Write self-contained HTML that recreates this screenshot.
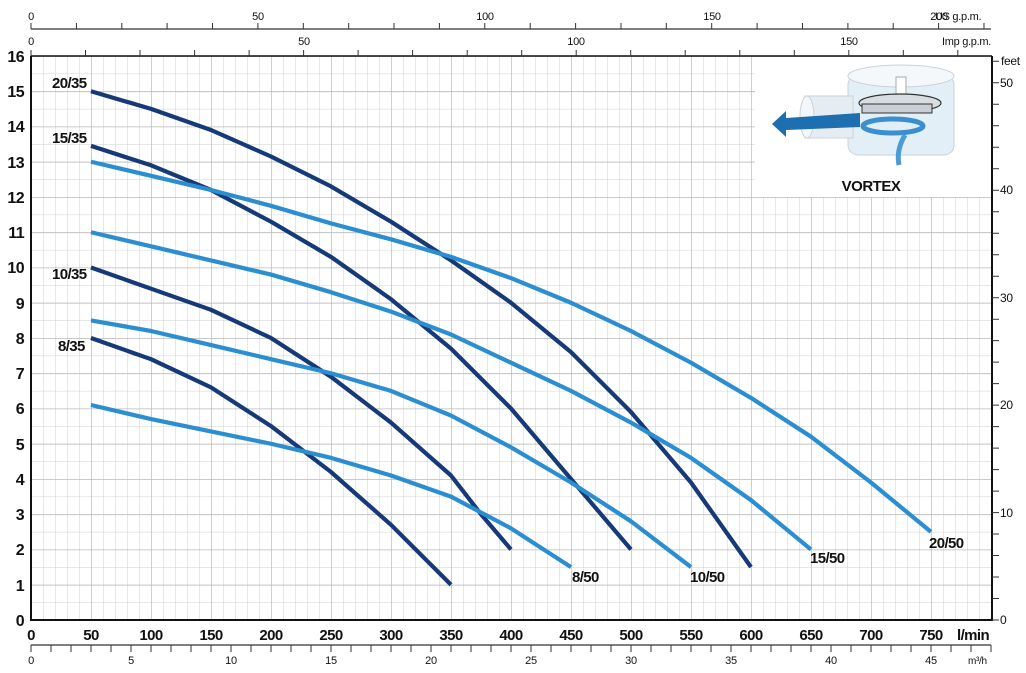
<!DOCTYPE html>
<html><head><meta charset="utf-8"><style>
html,body{margin:0;padding:0;background:#fff;}
svg{display:block;font-family:"Liberation Sans Narrow","Liberation Sans",sans-serif;}
.b{font-weight:bold;font-size:15px;fill:#111;letter-spacing:-0.6px;}
.s{font-size:11px;fill:#111;letter-spacing:-0.3px;}
.d{fill:none;stroke:#163a78;stroke-width:4.2;stroke-linejoin:round;stroke-linecap:butt;}
.l{fill:none;stroke:#2a8ed0;stroke-width:4.2;stroke-linejoin:round;stroke-linecap:butt;}
</style></head><body>
<svg width="1026" height="673" viewBox="0 0 1026 673">
<defs>
<pattern id="g1" x="31" y="56" width="12" height="17.625" patternUnits="userSpaceOnUse">
<path d="M0 0V17.625M0 0H12" stroke="#cfcfcf" stroke-width="1" fill="none"/>
</pattern>
<pattern id="g2" x="31" y="56" width="60" height="35.25" patternUnits="userSpaceOnUse">
<path d="M0 0V35.25M0 0H60" stroke="#b9b9b9" stroke-width="1.4" fill="none"/>
</pattern>
</defs>
<rect x="31" y="56" width="961" height="564" fill="url(#g1)"/>
<rect x="31" y="56" width="961" height="564" fill="url(#g2)"/>

<!-- curves dark -->
<polyline class="d" points="91,91.25 151,108.9 211,130 271,156.5 331,186.4 391,221.7 451,260.4 511,302.75 571,352.1 631,412 691,482.5 751,567.1"/>
<polyline class="d" points="91,145.9 151,165.3 211,190 271,221.7 331,256.9 391,299.2 451,348.6 511,408.5 571,479 631,549.5"/>
<polyline class="d" points="91,267.5 151,288.7 211,309.8 271,338 331,376.8 391,422.6 451,475.5 481,514.25 511,549.5"/>
<polyline class="d" points="91,338 151,359.2 211,387.35 271,426.1 331,472 391,524.8 451,584.75"/>
<!-- curves light -->
<polyline class="l" points="91,161.75 151,175.85 211,190 271,205.8 331,223.4 391,239.3 451,256.9 511,278.1 571,302.75 631,331 691,362.7 751,397.9 811,436.7 871,482.5 931,531.9"/>
<polyline class="l" points="91,232.25 151,246.35 211,260.45 271,274.55 331,292.2 391,311.6 451,334.5 511,362.7 571,390.9 631,422.6 691,457.85 751,500.15 811,549.5"/>
<polyline class="l" points="91,320.4 151,331 211,345.05 271,359.15 331,373.25 391,390.9 451,415.55 511,447.3 571,482.5 631,521.3 691,567.1"/>
<polyline class="l" points="91,405 151,419.1 211,431.4 271,443.75 331,457.85 391,475.5 451,496.6 511,528.35 571,567.1"/>

<!-- inset -->
<rect x="755" y="57" width="236" height="140" fill="#ffffff" stroke="none"/>
<g>
<rect x="848" y="75" width="106" height="80" rx="10" fill="#e3eff7" stroke="#c8d2da"/>
<ellipse cx="901" cy="76" rx="53" ry="11" fill="#f4f8fb" stroke="#c8d2da"/>
<rect x="805" y="96" width="48" height="42" fill="#e6edf2" stroke="#c8d2da"/>
<ellipse cx="807" cy="117" rx="7" ry="21" fill="#f4f6f8" stroke="#c8d2da"/>
<rect x="896" y="77" width="10" height="24" fill="#fff" stroke="#aaa"/>
<ellipse cx="900" cy="103" rx="41" ry="9" fill="#d8dde2" stroke="#333" stroke-width="1.2"/>
<rect x="862" y="104" width="70" height="9" fill="#c9cfd5" stroke="#333" stroke-width="1"/>
<ellipse cx="893" cy="126" rx="30" ry="7" fill="none" stroke="#3b8fd0" stroke-width="5"/>
<path d="M905 135 Q896 150 899 165" stroke="#4a9bd6" stroke-width="5" fill="none"/>
<path d="M772 124 L786 111 L786 118 L860 113 L860 127 L786 130 L786 137 Z" fill="#1d6fb0"/>
<text x="871" y="191" text-anchor="middle" style="font-weight:bold;font-size:15px;fill:#111;letter-spacing:-0.5px">VORTEX</text>
</g>

<!-- curve labels -->
<text class="b" x="52" y="88">20/35</text>
<text class="b" x="52" y="143">15/35</text>
<text class="b" x="52" y="279">10/35</text>
<text class="b" x="58" y="351">8/35</text>
<text class="b" x="572" y="582">8/50</text>
<text class="b" x="690" y="582">10/50</text>
<text class="b" x="810" y="563">15/50</text>
<text class="b" x="929" y="548">20/50</text>

<!-- plot frame -->
<path d="M31 56 V620 H992 V56" stroke="#111" stroke-width="2" fill="none"/>
<line x1="31" y1="56" x2="992" y2="56" stroke="#111" stroke-width="1.5"/>

<!-- left labels -->
<g class="b" text-anchor="end" style="font-size:16px">
<text x="24" y="626">0</text><text x="24" y="591">1</text><text x="24" y="555">2</text><text x="24" y="520">3</text>
<text x="24" y="485">4</text><text x="24" y="450">5</text><text x="24" y="414">6</text><text x="24" y="379">7</text>
<text x="24" y="344">8</text><text x="24" y="309">9</text><text x="24" y="273">10</text><text x="24" y="238">11</text>
<text x="24" y="203">12</text><text x="24" y="168">13</text><text x="24" y="132">14</text><text x="24" y="97">15</text>
<text x="24" y="62">16</text>
</g>

<!-- bottom l/min labels -->
<g class="b" text-anchor="middle">
<text x="31" y="640">0</text><text x="91" y="640">50</text><text x="151" y="640">100</text><text x="211" y="640">150</text>
<text x="271" y="640">200</text><text x="331" y="640">250</text><text x="391" y="640">300</text><text x="451" y="640">350</text>
<text x="511" y="640">400</text><text x="571" y="640">450</text><text x="631" y="640">500</text><text x="691" y="640">550</text>
<text x="751" y="640">600</text><text x="811" y="640">650</text><text x="871" y="640">700</text><text x="931" y="640">750</text>
</g>
<text class="b" x="957" y="640">l/min</text>

<!-- m3/h axis -->
<line x1="31" y1="645" x2="991" y2="645" stroke="#333" stroke-width="1.2"/>
<path stroke="#333" stroke-width="1" d="M31 645v7M51 645v7M71 645v7M91 645v7M111 645v7M131 645v7M151 645v7M171 645v7M191 645v7M211 645v7M231 645v7M251 645v7M271 645v7M291 645v7M311 645v7M331 645v7M351 645v7M371 645v7M391 645v7M411 645v7M431 645v7M451 645v7M471 645v7M491 645v7M511 645v7M531 645v7M551 645v7M571 645v7M591 645v7M611 645v7M631 645v7M651 645v7M671 645v7M691 645v7M711 645v7M731 645v7M751 645v7M771 645v7M791 645v7M811 645v7M831 645v7M851 645v7M871 645v7M891 645v7M911 645v7M931 645v7M951 645v7M971 645v7M991 645v7"/>
<g class="s" text-anchor="middle">
<text x="31" y="664">0</text><text x="131" y="664">5</text><text x="231" y="664">10</text><text x="331" y="664">15</text>
<text x="431" y="664">20</text><text x="531" y="664">25</text><text x="631" y="664">30</text><text x="731" y="664">35</text>
<text x="831" y="664">40</text><text x="931" y="664">45</text>
</g>
<text class="s" x="968" y="664" style="font-size:10px">m³/h</text>

<!-- US gpm axis -->
<line x1="31" y1="29" x2="991" y2="29" stroke="#333" stroke-width="1.2"/>
<path stroke="#333" stroke-width="1" d="M31 29v-6M76.4 29v-6M121.8 29v-6M167.1 29v-6M212.5 29v-6M257.9 29v-6M303.3 29v-6M348.7 29v-6M394 29v-6M439.4 29v-6M484.8 29v-6M530.2 29v-6M575.6 29v-6M621 29v-6M666.3 29v-6M711.7 29v-6M757.1 29v-6M802.5 29v-6M847.9 29v-6M893.2 29v-6M938.6 29v-6M984 29v-6"/>
<g class="s" text-anchor="middle">
<text x="31" y="20">0</text><text x="258" y="20">50</text><text x="485" y="20">100</text><text x="712" y="20">150</text><text x="939" y="20">200</text>
</g>
<text class="s" x="935" y="20">US g.p.m.</text>

<!-- Imp gpm axis -->
<path stroke="#333" stroke-width="1" d="M31 56v-6M85.5 56v-6M140 56v-6M194.6 56v-6M249.1 56v-6M303.6 56v-6M358.1 56v-6M412.6 56v-6M467.2 56v-6M521.7 56v-6M576.2 56v-6M630.7 56v-6M685.2 56v-6M739.8 56v-6M794.3 56v-6M848.8 56v-6M903.3 56v-6M957.8 56v-6"/>
<g class="s" text-anchor="middle">
<text x="31" y="45">0</text><text x="304" y="45">50</text><text x="576" y="45">100</text><text x="849" y="45">150</text>
</g>
<text class="s" x="942" y="45">Imp g.p.m.</text>

<!-- feet axis -->
<path stroke="#333" stroke-width="1" d="M992 620h7M992 598.5h7M992 577h7M992 555.5h7M992 534h7M992 512.6h7M992 491.1h7M992 469.6h7M992 448.1h7M992 426.6h7M992 405.1h7M992 383.6h7M992 362.1h7M992 340.6h7M992 319.2h7M992 297.7h7M992 276.2h7M992 254.7h7M992 233.2h7M992 211.7h7M992 190.2h7M992 168.7h7M992 147.2h7M992 125.7h7M992 104.3h7M992 82.8h7M992 61.3h7"/>
<g class="s" style="font-size:12px">
<text x="1000" y="624">0</text><text x="1000" y="517">10</text><text x="1000" y="409">20</text><text x="1000" y="302">30</text>
<text x="1000" y="194">40</text><text x="1000" y="87">50</text><text x="1001" y="65">feet</text>
</g>
</svg>
</body></html>
